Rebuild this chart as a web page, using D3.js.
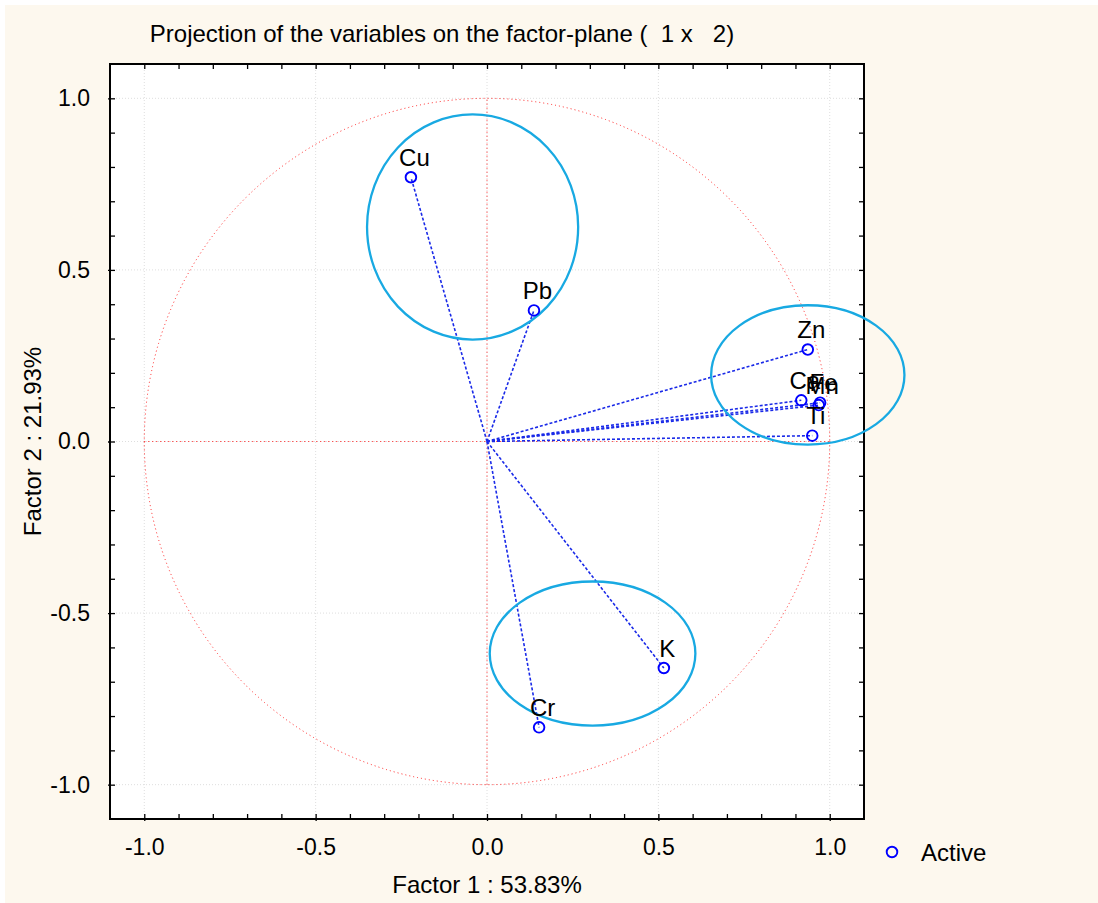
<!DOCTYPE html>
<html>
<head>
<meta charset="utf-8">
<script src="https://cdn.jsdelivr.net/npm/d3@7"></script>
<style>
  body { margin: 0; background: #ffffff; }
  text { font-family: "Liberation Sans", Arial, sans-serif; fill: #000; }
</style>
</head>
<body>
<svg id="chart" width="1098" height="903"></svg>
<script>
// variable coordinates on factor 1 / factor 2
const variables = ["Cu", "Pb", "Zn", "Ca", "Fe", "Mn", "Ti", "K", "Cr"];
const factor1 = [-0.222, 0.137, 0.936, 0.917, 0.972, 0.968, 0.949, 0.516, 0.152];
const factor2 = [0.770, 0.382, 0.268, 0.120, 0.113, 0.106, 0.017, -0.660, -0.833];

// cluster ellipses drawn over the plot (data units)
const clusterCx = [-0.042, 0.936, 0.308];
const clusterCy = [0.625, 0.194, -0.618];
const clusterRx = [0.308, 0.282, 0.300];
const clusterRy = [0.328, 0.203, 0.210];

const majorTicks = [-1.0, -0.5, 0.0, 0.5, 1.0];
const minorTicks = d3.range(-10, 11).map(d => d / 10);

const title = "Projection of the variables on the factor-plane (  1 x   2)";
const xTitle = "Factor 1 : 53.83%";
const yTitle = "Factor 2 : 21.93%";
const legendLabel = "Active";

const svg = d3.select("#chart");
const plotL = 110, plotR = 864, plotT = 64, plotB = 819;

const x = d3.scaleLinear().domain([-1.1, 1.1]).range([plotL, plotR]);
const y = d3.scaleLinear().domain([-1.1, 1.1]).range([plotB, plotT]);

// backgrounds
svg.append("rect").attr("x", 5).attr("y", 5).attr("width", 1093).attr("height", 898).attr("fill", "#fdf8ee");
svg.append("rect").attr("x", plotL).attr("y", plotT).attr("width", plotR - plotL).attr("height", plotB - plotT).attr("fill", "#fff");

// grid
const grid = svg.append("g").attr("stroke", "#dedede").attr("stroke-dasharray", "1,2");
grid.selectAll(".gx").data(majorTicks).join("line").attr("class", "gx")
    .attr("x1", d => x(d)).attr("x2", d => x(d)).attr("y1", plotT).attr("y2", plotB);
grid.selectAll(".gy").data(majorTicks).join("line").attr("class", "gy")
    .attr("y1", d => y(d)).attr("y2", d => y(d)).attr("x1", plotL).attr("x2", plotR);

// unit circle and red axes
svg.append("ellipse")
    .attr("cx", x(0)).attr("cy", y(0))
    .attr("rx", x(1) - x(0)).attr("ry", y(0) - y(1))
    .attr("fill", "none").attr("stroke", "#ff2020").attr("stroke-width", 1).attr("stroke-dasharray", "1,3");
svg.append("line").attr("x1", x(-1)).attr("x2", x(1)).attr("y1", y(0)).attr("y2", y(0))
    .attr("stroke", "#ff2020").attr("stroke-dasharray", "1,3");
svg.append("line").attr("x1", x(0)).attr("x2", x(0)).attr("y1", y(-1)).attr("y2", y(1))
    .attr("stroke", "#ff2020").attr("stroke-dasharray", "1,3");

// axes: minor ticks inside on all four sides
function minorAxis(axis) {
    return axis.tickValues(minorTicks).tickSize(-5).tickFormat("");
}
svg.append("g").attr("transform", `translate(0,${plotB})`).call(minorAxis(d3.axisBottom(x)));
svg.append("g").attr("transform", `translate(0,${plotT})`).call(minorAxis(d3.axisTop(x)));
svg.append("g").attr("transform", `translate(${plotL},0)`).call(minorAxis(d3.axisLeft(y)));
svg.append("g").attr("transform", `translate(${plotR},0)`).call(minorAxis(d3.axisRight(y)));

const fmt = d => d.toFixed(1);
const xAxis = svg.append("g").attr("transform", `translate(0,${plotB})`)
    .call(d3.axisBottom(x).tickValues(majorTicks).tickSize(2).tickPadding(18).tickFormat(fmt));
const yAxis = svg.append("g").attr("transform", `translate(${plotL},0)`)
    .call(d3.axisLeft(y).tickValues(majorTicks).tickSize(2).tickPadding(18).tickFormat(fmt));
[xAxis, yAxis].forEach(g => {
    g.selectAll("text").attr("font-size", 23).attr("font-family", "Liberation Sans, Arial, sans-serif").attr("fill", "#000");
});
svg.selectAll(".tick line").attr("stroke", "#000").attr("stroke-width", 1.3);
svg.selectAll(".domain").attr("stroke", "none");

// frame
svg.append("rect").attr("x", plotL).attr("y", plotT).attr("width", plotR - plotL).attr("height", plotB - plotT)
    .attr("fill", "none").attr("stroke", "#000").attr("stroke-width", 2);

// vectors from origin
svg.append("g").selectAll("line").data(variables).join("line")
    .attr("x1", x(0)).attr("y1", y(0))
    .attr("x2", (d, i) => x(factor1[i])).attr("y2", (d, i) => y(factor2[i]))
    .attr("stroke", "#1a2ae8").attr("stroke-width", 1.6).attr("stroke-dasharray", "3,2");

// cluster ellipses
svg.append("g").selectAll("ellipse").data(clusterCx).join("ellipse")
    .attr("cx", d => x(d)).attr("cy", (d, i) => y(clusterCy[i]))
    .attr("rx", (d, i) => x(clusterRx[i]) - x(0)).attr("ry", (d, i) => y(0) - y(clusterRy[i]))
    .attr("fill", "none").attr("stroke", "#18a9e2").attr("stroke-width", 2.3);

// points
svg.append("g").selectAll("circle").data(variables).join("circle")
    .attr("cx", (d, i) => x(factor1[i])).attr("cy", (d, i) => y(factor2[i]))
    .attr("r", 5.3).attr("fill", "none").attr("stroke", "#0000ff").attr("stroke-width", 1.9);

// labels
svg.append("g").selectAll("text").data(variables).join("text")
    .attr("x", (d, i) => x(factor1[i]) + 3.5).attr("y", (d, i) => y(factor2[i]) - 11.5)
    .attr("text-anchor", "middle").attr("font-size", 24).text(d => d);

// titles
svg.append("text").attr("x", 442).attr("y", 42).attr("text-anchor", "middle")
    .attr("font-size", 24).style("white-space", "pre").text(title);
svg.append("text").attr("x", x(0)).attr("y", 893).attr("text-anchor", "middle")
    .attr("font-size", 24).text(xTitle);
svg.append("text").attr("transform", `translate(41,${y(0)}) rotate(-90)`).attr("text-anchor", "middle")
    .attr("font-size", 24).text(yTitle);

// legend
svg.append("circle").attr("cx", 892).attr("cy", 852).attr("r", 5.3)
    .attr("fill", "none").attr("stroke", "#0000ff").attr("stroke-width", 1.9);
svg.append("text").attr("x", 921).attr("y", 861).attr("font-size", 24).text(legendLabel);
</script>
</body>
</html>
